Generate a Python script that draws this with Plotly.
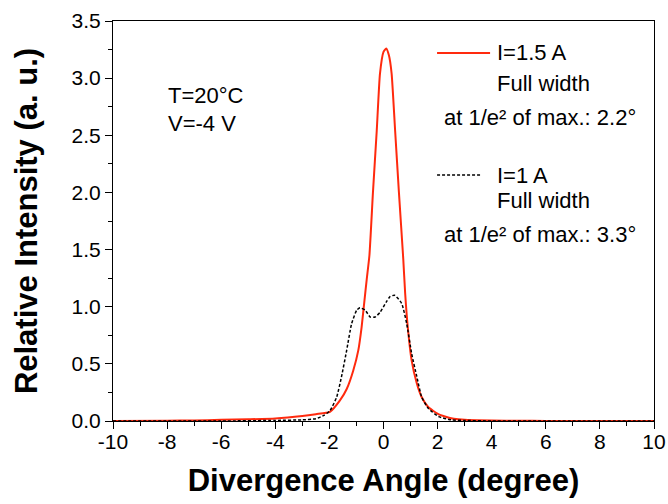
import plotly.graph_objects as go

# I = 1.5 A (red, solid)
angle_15 = [-10, -8, -7, -6, -5, -4, -3, -2.5, -1.98, -1.61, -1.36, -1.12, -0.93, -0.81, -0.71,
            -0.62, -0.52, -0.39, -0.25, -0.13, 0.0, 0.1, 0.2, 0.3, 0.43, 0.57, 0.73, 0.8, 0.89,
            1.04, 1.23, 1.41, 1.66, 2.03, 2.27, 2.6, 3, 4, 5, 6, 8, 10]
intensity_15 = [0.0, 0.002, 0.005, 0.01, 0.015, 0.022, 0.044, 0.06, 0.08, 0.18, 0.28, 0.44,
                0.62, 0.82, 1.04, 1.24, 1.45, 2.0, 2.54, 3.04, 3.23, 3.26, 3.2, 3.04, 2.54,
                2.0, 1.42, 1.12, 0.84, 0.53, 0.33, 0.21, 0.12, 0.06, 0.04, 0.02, 0.01, 0.004,
                0.002, 0.001, 0.0, 0.0]

# I = 1 A (black, dotted)
angle_10 = [-10, -6, -4, -3, -2.5, -2.2, -1.98, -1.73, -1.55, -1.36, -1.18, -0.99, -0.87,
            -0.68, -0.49, -0.31, -0.13, 0.1, 0.25, 0.41, 0.67, 0.86, 1.04, 1.23, 1.41, 1.66,
            2.03, 2.5, 3, 4, 6, 10]
intensity_10 = [0.0, 0.0, 0.005, 0.01, 0.02, 0.05, 0.09, 0.21, 0.39, 0.62, 0.85, 0.97, 0.99,
                0.97, 0.91, 0.91, 0.95, 1.04, 1.09, 1.10, 1.03, 0.85, 0.59, 0.39, 0.21, 0.11,
                0.04, 0.01, 0.005, 0.0, 0.0, 0.0]

x_ticks = [-10, -8, -6, -4, -2, 0, 2, 4, 6, 8, 10]
y_ticks = [0.0, 0.5, 1.0, 1.5, 2.0, 2.5, 3.0, 3.5]

FONT = "Liberation Sans, Arial, sans-serif"
RED = "#ff2a0e"

fig = go.Figure()
fig.add_trace(go.Scatter(x=angle_15, y=intensity_15, mode="lines", name="I=1.5 A",
                         line=dict(color=RED, width=2, shape="spline", smoothing=0.5),
                         showlegend=False))
fig.add_trace(go.Scatter(x=angle_10, y=intensity_10, mode="lines", name="I=1 A",
                         line=dict(color="black", width=1.5, dash="3px,2px", shape="spline",
                                   smoothing=0.5),
                         showlegend=False))

axis_common = dict(showline=True, linecolor="black", linewidth=1, mirror=True,
                   ticks="outside", ticklen=7, tickwidth=1, tickcolor="black",
                   showgrid=False, zeroline=False, automargin=False,
                   tickfont=dict(family=FONT, size=21, color="black"))

fig.update_xaxes(range=[-10, 10], tickvals=x_ticks, ticktext=[str(v) for v in x_ticks],
                 minor=dict(dtick=1, ticklen=4, tickcolor="black", ticks="outside"),
                 ticklabelstandoff=-5,
                 title=dict(text="<b>Divergence Angle (degree)</b>", standoff=17,
                            font=dict(family=FONT, size=31, color="black")),
                 **axis_common)
fig.update_yaxes(range=[0, 3.5], tickvals=y_ticks, ticktext=[f"{v:.1f}" for v in y_ticks],
                 minor=dict(dtick=0.25, ticklen=4, tickcolor="black", ticks="outside"),
                 title=dict(text="<b>Relative Intensity (a. u.)</b>", standoff=24,
                            font=dict(family=FONT, size=31, color="black")),
                 **axis_common)

# legend-like samples
fig.add_shape(type="line", xref="paper", yref="paper", x0=0.599, x1=0.697, y0=0.92, y1=0.92,
              line=dict(color=RED, width=2))
fig.add_shape(type="line", xref="paper", yref="paper", x0=0.599, x1=0.68, y0=0.615, y1=0.615,
              line=dict(color="black", width=1.5, dash="3px,2px"))

def ann(text, x, y):
    fig.add_annotation(text=text, xref="paper", yref="paper", x=x, y=y, xanchor="left",
                       yanchor="middle", showarrow=False,
                       font=dict(family=FONT, size=22, color="black"))

ann("I=1.5 A", 0.707, 0.92)
ann("Full width", 0.707, 0.845)
ann("at 1/e² of max.: 2.2°", 0.609, 0.76)
ann("I=1 A", 0.707, 0.615)
ann("Full width", 0.707, 0.55)
ann("at 1/e² of max.: 3.3°", 0.609, 0.465)
ann("T=20°C", 0.098, 0.815)
ann("V=-4 V", 0.098, 0.745)

fig.update_layout(width=668, height=504, margin=dict(l=113, r=14, t=21, b=83),
                  paper_bgcolor="white", plot_bgcolor="white",
                  font=dict(family=FONT, color="black"))

# remove the page's default 8 px body margin so the figure fills the window exactly
fig.write_html("out.html", config={"displayModeBar": False},
               post_script="document.body.style.margin='0';document.body.style.overflow='hidden';")
